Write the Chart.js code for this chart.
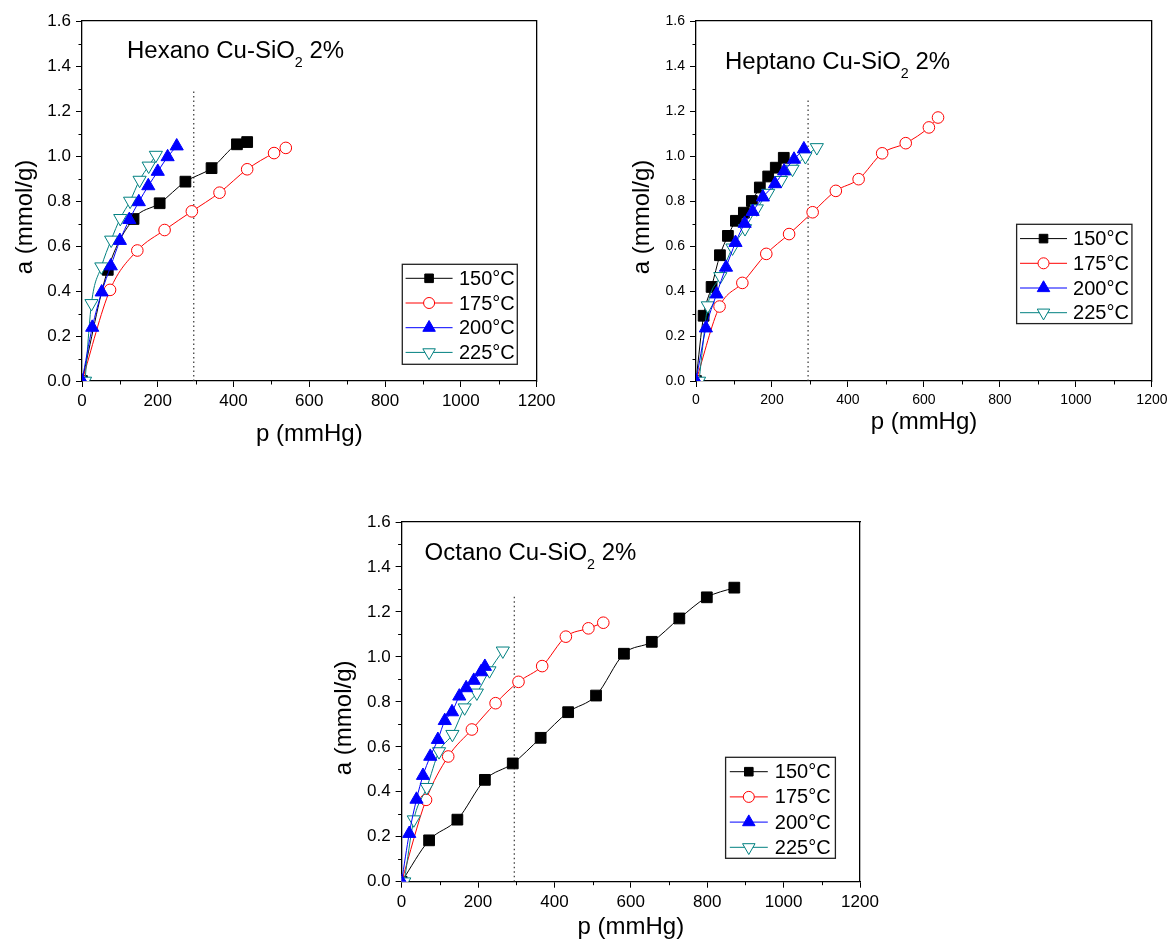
<!DOCTYPE html>
<html>
<head>
<meta charset="utf-8">
<script src="https://cdn.jsdelivr.net/npm/chart.js@4/dist/chart.umd.min.js"></script>
<style>
  html, body { margin: 0; padding: 0; background: #fff; overflow: hidden; }
  canvas { position: absolute; }
</style>
</head>
<body>
<canvas id="hexano" width="560" height="450" style="left:0;top:0"></canvas>
<canvas id="heptano" width="582" height="450" style="left:590px;top:0"></canvas>
<canvas id="octano" width="560" height="439" style="left:330px;top:500px"></canvas>
<script>
const FONT = '"Liberation Sans", Arial, Helvetica, sans-serif';

// shared labels / ticks
const seriesNames = ['150°C', '175°C', '200°C', '225°C'];
const pTicks = [0, 200, 400, 600, 800, 1000, 1200];
const aTicks = [0, 0.2, 0.4, 0.6, 0.8, 1.0, 1.2, 1.4, 1.6];
const dottedP = 295;

// Hexano
const hexP150 = [0, 68, 136, 205, 273, 342, 409, 436];
const hexA150 = [0, 0.494, 0.72, 0.79, 0.886, 0.946, 1.052, 1.062];
const hexP175 = [0, 74, 146, 218, 290, 363, 436, 507, 538];
const hexA175 = [0, 0.405, 0.58, 0.671, 0.754, 0.837, 0.941, 1.013, 1.036];
const hexP200 = [0, 27, 52, 76, 100, 125, 150, 175, 200, 226, 250];
const hexA200 = [0, 0.238, 0.395, 0.511, 0.624, 0.717, 0.796, 0.867, 0.931, 0.996, 1.044];
const hexP225 = [8, 25, 51, 77, 101, 127, 152, 176, 195];
const hexA225 = [0, 0.345, 0.508, 0.627, 0.723, 0.8, 0.893, 0.956, 1.004];
const hexDotTop = 1.30;

// Heptano
const hepP150 = [0, 20, 41, 63, 84, 105, 126, 147, 168, 190, 210, 231];
const hepA150 = [0, 0.29, 0.418, 0.559, 0.645, 0.712, 0.748, 0.8, 0.86, 0.909, 0.948, 0.992];
const hepP175 = [0, 62, 122, 185, 245, 307, 368, 428, 490, 552, 613, 637];
const hepA175 = [0, 0.331, 0.436, 0.565, 0.653, 0.75, 0.845, 0.897, 1.012, 1.057, 1.127, 1.171];
const hepP200 = [0, 26, 54, 79, 104, 128, 149, 176, 208, 232, 258, 284];
const hepA200 = [0, 0.235, 0.386, 0.505, 0.615, 0.7, 0.753, 0.817, 0.876, 0.933, 0.985, 1.031];
const hepP225 = [8, 31, 64, 96, 129, 160, 190, 224, 254, 288, 318];
const hepA225 = [0, 0.335, 0.465, 0.592, 0.678, 0.766, 0.835, 0.892, 0.942, 0.998, 1.038];
const hepDotTop = 1.25;

// Octano
const octP150 = [0, 72, 146, 218, 291, 364, 436, 509, 582, 655, 727, 799, 871];
const octA150 = [0, 0.184, 0.276, 0.453, 0.526, 0.64, 0.754, 0.828, 1.014, 1.067, 1.171, 1.265, 1.308];
const octP175 = [0, 64, 122, 184, 246, 306, 368, 430, 489, 528];
const octA175 = [0, 0.364, 0.557, 0.677, 0.794, 0.889, 0.959, 1.09, 1.127, 1.152];
const octP200 = [0, 20, 39, 56, 75, 95, 113, 132, 151, 169, 189, 208, 218];
const octA200 = [0, 0.214, 0.366, 0.472, 0.557, 0.632, 0.716, 0.755, 0.825, 0.862, 0.895, 0.933, 0.957];
const octP225 = [7, 32, 66, 98, 133, 165, 197, 230, 265];
const octA225 = [0, 0.276, 0.42, 0.579, 0.656, 0.774, 0.84, 0.939, 1.027];
const octDotTop = 1.27;

// look of each series (Origin style)
const looks = [
  { color: '#000000', style: 'rect',     r: 7.6, fill: '#000000', rot: 0,   order: 4 },
  { color: '#ff0000', style: 'circle',   r: 5.8, fill: '#ffffff', rot: 0,   order: 3 },
  { color: '#0000ff', style: 'triangle', r: 7.6, fill: '#0000ff', rot: 0,   order: 1 },
  { color: '#008080', style: 'triangle', r: 7.6, fill: '#ffffff', rot: 180, order: 2 }
];

const panels = [
  {
    id: 'hexano', name: 'Hexano',
    p: [hexP150, hexP175, hexP200, hexP225], a: [hexA150, hexA175, hexA200, hexA225], dotTop: hexDotTop,
    box: { yW: 82, y2W: 19, x2H: 21, xH: 69 }, tick: 17,
    title: { dx: 45, dy: 37, size: 23.5, sub: 14, subDy: 9, sx: 1.02 },
    axT: { xDy: 53.3, yDx: 57, yShift: 16 },
    legend: { w: 115, h: 100, gapR: 19.3, gapB: 16.7, first: 14, step: 24.7, lineX: 3.3, lineLen: 47, textX: 56.6, font: 20 }
  },
  {
    id: 'heptano', name: 'Heptano',
    p: [hepP150, hepP175, hepP200, hepP225], a: [hepA150, hepA175, hepA200, hepA225], dotTop: hepDotTop,
    box: { yW: 106, y2W: 18, x2H: 21, xH: 69 }, tick: 14,
    title: { dx: 29, dy: 47.5, size: 23.5, sub: 14, subDy: 9, sx: 1.02 },
    axT: { xDy: 41.5, yDx: 54, yShift: 16 },
    legend: { w: 115.3, h: 99.3, gapR: 20, gapB: 57.4, first: 14.3, step: 24.7, lineX: 3.4, lineLen: 47, textX: 56.4, font: 20 }
  },
  {
    id: 'octano', name: 'Octano',
    p: [octP150, octP175, octP200, octP225], a: [octA150, octA175, octA200, octA225], dotTop: octDotTop,
    box: { yW: 71.6, y2W: 30, x2H: 22, xH: 57.3 }, tick: 17,
    title: { dx: 23, dy: 37.5, size: 23.5, sub: 14, subDy: 9, sx: 1.02 },
    axT: { xDy: 45.8, yDx: 57, yShift: 16 },
    legend: { w: 109.8, h: 101, gapR: 24.6, gapB: 23.4, first: 14.4, step: 25.2, lineX: 4.2, lineLen: 38, textX: 49.2, font: 20 }
  }
];

function marker(ctx, d, x, y, scale) {
  const opts = { pointStyle: d.pointStyle, rotation: d.pointRotation, radius: d.pointRadius * scale, borderWidth: 1 };
  Chart.helpers.drawPoint(ctx, opts, x, y);
}

function makeDecor(cfg) {
  return {
    id: 'decor',
    afterDraw(chart) {
      const ctx = chart.ctx;
      const area = chart.chartArea;
      const xs = chart.scales.x, ys = chart.scales.y;
      ctx.save();

      // minor ticks half way between majors
      ctx.strokeStyle = '#000';
      ctx.lineWidth = 1;
      ctx.beginPath();
      for (let i = 0; i < pTicks.length - 1; i++) {
        const px = Math.round(xs.getPixelForValue((pTicks[i] + pTicks[i + 1]) / 2)) + 0.5;
        ctx.moveTo(px, area.bottom);
        ctx.lineTo(px, area.bottom + 3.5);
      }
      for (let i = 0; i < aTicks.length - 1; i++) {
        const py = Math.round(ys.getPixelForValue((aTicks[i] + aTicks[i + 1]) / 2)) + 0.5;
        ctx.moveTo(area.left, py);
        ctx.lineTo(area.left - 3.5, py);
      }
      ctx.stroke();

      // panel title with subscript
      const t = cfg.title;
      ctx.translate(area.left + t.dx, area.top + t.dy);
      ctx.scale(t.sx, 1);
      ctx.fillStyle = '#000';
      ctx.textBaseline = 'alphabetic';
      ctx.textAlign = 'left';
      const big = t.size + 'px ' + FONT, small = t.sub + 'px ' + FONT;
      const head = cfg.name + ' Cu-SiO';
      ctx.font = big;
      ctx.fillText(head, 0, 0);
      let x = ctx.measureText(head).width;
      ctx.font = small;
      ctx.fillText('2', x, t.subDy);
      x += ctx.measureText('2').width;
      ctx.font = big;
      ctx.fillText(' 2%', x, 0);
      ctx.restore();

      // axis titles
      ctx.save();
      ctx.fillStyle = '#000';
      ctx.font = '24px ' + FONT;
      ctx.textAlign = 'center';
      ctx.textBaseline = 'middle';
      ctx.fillText('p (mmHg)', (area.left + area.right) / 2, area.bottom + cfg.axT.xDy);
      ctx.translate(area.left - cfg.axT.yDx, (area.top + area.bottom) / 2 + cfg.axT.yShift);
      ctx.rotate(-Math.PI / 2);
      ctx.fillText('a (mmol/g)', 0, 0);
      ctx.restore();

      // legend box
      const L = cfg.legend;
      const x0 = area.right - L.gapR - L.w, y0 = area.bottom - L.gapB - L.h;
      ctx.save();
      ctx.fillStyle = '#fff';
      ctx.fillRect(x0, y0, L.w, L.h);
      ctx.strokeStyle = '#222';
      ctx.lineWidth = 1.3;
      ctx.strokeRect(x0, y0, L.w, L.h);
      chart.data.datasets.filter(d => d.label).forEach((d, i) => {
        const y = y0 + L.first + i * L.step;
        ctx.strokeStyle = d.borderColor;
        ctx.lineWidth = 1;
        ctx.beginPath();
        ctx.moveTo(x0 + L.lineX, y);
        ctx.lineTo(x0 + L.lineX + L.lineLen, y);
        ctx.stroke();
        ctx.fillStyle = d.pointBackgroundColor;
        ctx.strokeStyle = d.pointBorderColor;
        marker(ctx, d, x0 + L.lineX + L.lineLen / 2, y, d.pointStyle === 'rect' ? 0.8 : 0.95);
        ctx.fillStyle = '#000';
        ctx.font = L.font + 'px ' + FONT;
        ctx.textAlign = 'left';
        ctx.textBaseline = 'middle';
        ctx.fillText(d.label, x0 + L.textX, y + 1);
      });
      ctx.restore();
    }
  };
}

function axisLine() {
  return { display: true, color: '#000', width: 1.3 };
}

panels.forEach(cfg => {
  const datasets = cfg.p.map((ps, i) => {
    const lk = looks[i];
    return {
      label: seriesNames[i],
      data: ps.map((p, j) => ({ x: p, y: cfg.a[i][j] })),
      borderColor: lk.color,
      backgroundColor: lk.fill,
      borderWidth: 1,
      pointStyle: lk.style,
      pointRadius: lk.r,
      pointRotation: lk.rot,
      pointBackgroundColor: lk.fill,
      pointBorderColor: lk.color,
      pointBorderWidth: 1,
      cubicInterpolationMode: 'monotone',
      order: lk.order
    };
  });
  datasets.push({
    label: '',
    data: [{ x: dottedP, y: 0 }, { x: dottedP, y: cfg.dotTop }],
    borderColor: '#333',
    borderWidth: 1.2,
    borderDash: [1.5, 3],
    pointRadius: 0,
    order: 9
  });

  const tickFont = { family: FONT, size: cfg.tick };
  new Chart(document.getElementById(cfg.id), {
    type: 'line',
    data: { datasets },
    options: {
      responsive: false,
      animation: false,
      events: [],
      layout: { padding: 0 },
      plugins: { legend: { display: false }, tooltip: { enabled: false } },
      scales: {
        x: {
          type: 'linear', position: 'bottom', min: 0, max: 1200,
          afterBuildTicks: s => { s.ticks = pTicks.map(v => ({ value: v })); },
          afterFit: s => { s.height = cfg.box.xH; },
          ticks: { autoSkip: false, maxRotation: 0, padding: 4.5, color: '#000', font: tickFont, callback: v => String(v) },
          grid: { drawOnChartArea: false, drawTicks: true, tickLength: 6, color: '#000', lineWidth: 1 },
          border: axisLine()
        },
        y: {
          type: 'linear', position: 'left', min: 0, max: 1.6,
          afterBuildTicks: s => { s.ticks = aTicks.map(v => ({ value: v })); },
          afterFit: s => { s.width = cfg.box.yW; },
          ticks: { autoSkip: false, padding: 5, color: '#000', font: tickFont, callback: v => v.toFixed(1) },
          grid: { drawOnChartArea: false, drawTicks: true, tickLength: 6, color: '#000', lineWidth: 1 },
          border: axisLine()
        },
        x2: {
          type: 'linear', position: 'top', min: 0, max: 1200,
          afterFit: s => { s.height = cfg.box.x2H; },
          ticks: { display: false },
          grid: { drawOnChartArea: false, drawTicks: false },
          border: axisLine()
        },
        y2: {
          type: 'linear', position: 'right', min: 0, max: 1.6,
          afterFit: s => { s.width = cfg.box.y2W; },
          ticks: { display: false },
          grid: { drawOnChartArea: false, drawTicks: false },
          border: axisLine()
        }
      }
    },
    plugins: [makeDecor(cfg)]
  });
});
</script>
</body>
</html>
